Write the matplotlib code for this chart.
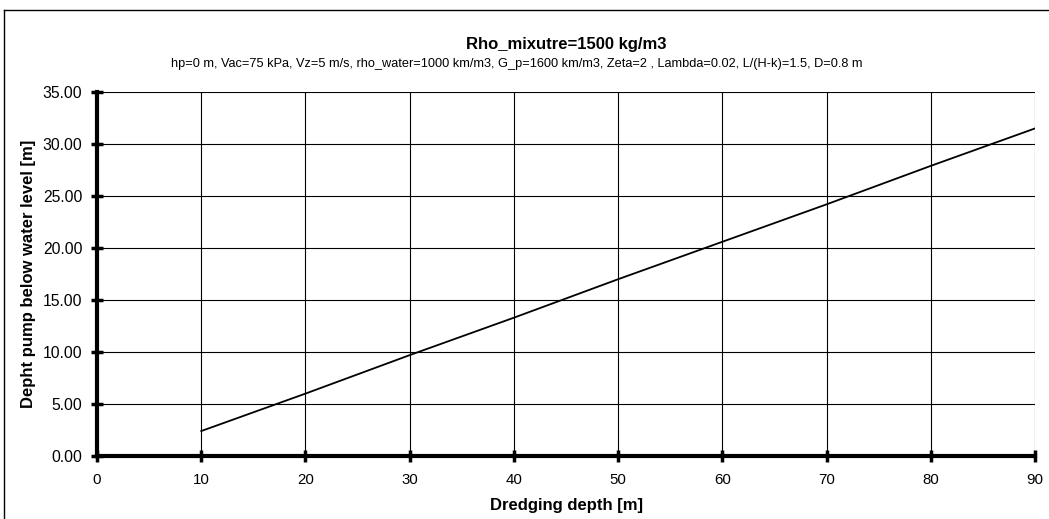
import numpy as np
import matplotlib.pyplot as plt
from matplotlib.lines import Line2D

plt.rcParams['font.family'] = ['Liberation Sans', 'DejaVu Sans']

# dredging depth [m] and pump depth below water level [m]
dredging_depth = [10, 20, 30, 40, 50, 60, 70, 80, 90]
pump_depth = [2.4, 6.0, 9.7, 13.3, 17.0, 20.6, 24.2, 27.9, 31.5]

x_ticks = [0, 10, 20, 30, 40, 50, 60, 70, 80, 90]
y_ticks = [0, 5, 10, 15, 20, 25, 30, 35]

fig = plt.figure(figsize=(10.49, 5.19), dpi=100)
ax = fig.add_axes([0.0925, 0.1214, 0.8942, 0.7013])

ax.plot(dredging_depth, pump_depth, color='black', lw=1.3, zorder=3)

ax.set_xlim(0, 90)
ax.set_ylim(0, 35)
ax.set_xticks(x_ticks)
ax.set_yticks(y_ticks)
ax.set_yticklabels(['%.2f' % v for v in y_ticks])
ax.grid(True, color='black', lw=0.8)
ax.set_axisbelow(True)

for s in ['top', 'right']:
    ax.spines[s].set_visible(False)
for s in ['left', 'bottom']:
    ax.spines[s].set_linewidth(3)
ax.tick_params(direction='inout', length=9, width=2.5, pad=6)
ax.tick_params(axis='x', labelsize=10.8, pad=8)
ax.tick_params(axis='y', labelsize=11.3)

ax.set_xlabel('Dredging depth [m]', fontsize=12, fontweight='bold', labelpad=8)
ax.set_ylabel('Depht pump below water level [m]', fontsize=12, fontweight='bold', labelpad=5)

# title centred over the plot area, subtitle below
ax.set_title('Rho_mixutre=1500 kg/m3', fontsize=12, fontweight='bold', pad=31)
fig.text(0.493, 0.876, 'hp=0 m, Vac=75 kPa, Vz=5 m/s, rho_water=1000 km/m3, G_p=1600 km/m3, '
         'Zeta=2 , Lambda=0.02, L/(H-k)=1.5, D=0.8 m',
         ha='center', va='center', fontsize=9.2)

# outer chart frame (left and top edges visible)
fig.add_artist(Line2D([0.004, 0.004], [0, 0.981], color='black', lw=1))
fig.add_artist(Line2D([0.004, 1.0], [0.981, 0.981], color='black', lw=1))

fig.savefig('out.png', dpi=100)
